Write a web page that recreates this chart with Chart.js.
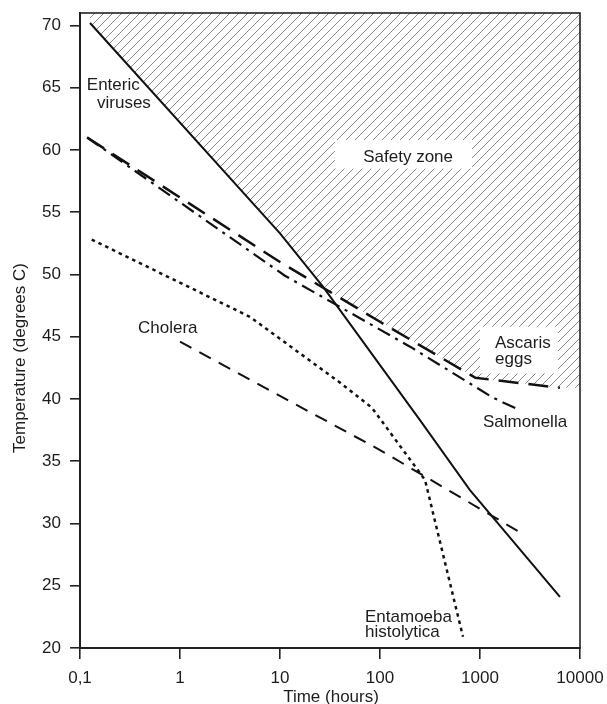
<!DOCTYPE html>
<html>
<head>
<meta charset="utf-8">
<script src="https://cdn.jsdelivr.net/npm/chart.js@4/dist/chart.umd.min.js"></script>
<style>
  html, body { margin: 0; padding: 0; background: #fff; }
  #wrap { width: 607px; height: 704px; position: relative; }
</style>
</head>
<body>
<div id="wrap"><canvas id="chart" width="607" height="704"></canvas></div>
<script>
// Axis ticks
const xTickValues = [0.1, 1, 10, 100, 1000, 10000];
const xTickLabels = ['0,1', '1', '10', '100', '1000', '10000'];
const yTickValues = [20, 25, 30, 35, 40, 45, 50, 55, 60, 65, 70];

// Time (hours) needed to kill each pathogen at a given temperature (°C)
const entericHours = [0.126, 10, 27, 251, 790, 6300];
const entericTemp  = [70.2, 53.3, 49.0, 38.3, 32.7, 24.1];

const ascarisHours = [0.118, 10, 100, 900, 6300];
const ascarisTemp  = [61.0, 51.0, 46.2, 41.7, 40.9];

const salmonellaHours = [0.118, 11.2, 200, 1350, 2500];
const salmonellaTemp  = [61.0, 49.9, 44.2, 40.1, 39.1];

const choleraHours = [1, 100, 2500];
const choleraTemp  = [44.6, 35.9, 29.3];

const entamoebaHours = [0.131, 5.0, 40, 83, 282, 676];
const entamoebaTemp  = [52.8, 46.6, 41.3, 39.3, 33.5, 20.9];

const FONT = '"Liberation Sans", Arial, Helvetica, sans-serif';
const INK = '#1c1c1c';

const lg = Math.log10;
const pts = (hs, ts) => hs.map((h, i) => ({ x: h, y: ts[i] }));

// Temperature on a piecewise line that is straight in log(time)
function tempAt(hours, temps, h) {
  for (let i = 1; i < hours.length; i++) {
    if (h <= hours[i] || i === hours.length - 1) {
      const t = (lg(h) - lg(hours[i - 1])) / (lg(hours[i]) - lg(hours[i - 1]));
      return temps[i - 1] + t * (temps[i] - temps[i - 1]);
    }
  }
  return temps[temps.length - 1];
}

// Where the enteric virus line drops below the Ascaris line
function crossing() {
  let lo = lg(entericHours[0]), hi = lg(entericHours[entericHours.length - 1]);
  const gap = u => tempAt(entericHours, entericTemp, 10 ** u) - tempAt(ascarisHours, ascarisTemp, 10 ** u);
  for (let k = 0; k < 60; k++) {
    const mid = (lo + hi) / 2;
    if (gap(mid) > 0) lo = mid; else hi = mid;
  }
  const h = 10 ** lo;
  return { x: h, y: tempAt(entericHours, entericTemp, h) };
}

// Lower edge of the safety zone: the upper envelope of the two curves
const cross = crossing();
const safetyEdge = [];
entericHours.forEach((h, i) => { if (h < cross.x) safetyEdge.push({ x: h, y: entericTemp[i] }); });
safetyEdge.push(cross);
ascarisHours.forEach((h, i) => { if (h > cross.x) safetyEdge.push({ x: h, y: ascarisTemp[i] }); });
safetyEdge.push({ x: xTickValues[xTickValues.length - 1], y: ascarisTemp[ascarisTemp.length - 1] });

// Diagonal hatching for the safety zone
function hatchPattern() {
  const s = 9;
  const tile = document.createElement('canvas');
  tile.width = s; tile.height = s;
  const c = tile.getContext('2d');
  c.strokeStyle = '#8a8a8a';
  c.lineWidth = 1;
  c.beginPath();
  c.moveTo(0, s); c.lineTo(s, 0);
  c.moveTo(-1, 1); c.lineTo(1, -1);
  c.moveTo(s - 1, s + 1); c.lineTo(s + 1, s - 1);
  c.stroke();
  return c.createPattern(tile, 'repeat');
}

// Text placed on the plot (time in hours, temperature at the text baseline)
const notes = [
  { text: 'Enteric', x: 0.117, y: 64.8 },
  { text: 'viruses', x: 0.148, y: 63.35 },
  { text: 'Safety zone', x: 68, y: 59.0, box: [35.5, 832, 60.8, 58.5] },
  { text: 'Ascaris', x: 1413, y: 44.1, box: [1000, 6030, 45.8, 42.05] },
  { text: 'eggs', x: 1413, y: 42.8 },
  { text: 'Salmonella', x: 1072, y: 37.75 },
  { text: 'Cholera', x: 0.38, y: 45.3 },
  { text: 'Entamoeba', x: 70.8, y: 22.1 },
  { text: 'histolytica', x: 70.8, y: 20.9 }
];

const decorations = {
  id: 'decorations',
  afterDatasetsDraw(chart) {
    const { ctx, chartArea: a, scales: { x, y } } = chart;
    ctx.save();
    // white backing behind labels inside the hatched area
    ctx.fillStyle = '#ffffff';
    notes.forEach(n => {
      if (!n.box) return;
      const x0 = x.getPixelForValue(n.box[0]), x1 = x.getPixelForValue(n.box[1]);
      const y0 = y.getPixelForValue(n.box[2]), y1 = y.getPixelForValue(n.box[3]);
      ctx.fillRect(x0, y0, x1 - x0, y1 - y0);
    });
    ctx.fillStyle = INK;
    ctx.font = '17px ' + FONT;
    ctx.textAlign = 'left';
    ctx.textBaseline = 'alphabetic';
    notes.forEach(n => {
      ctx.fillText(n.text, x.getPixelForValue(n.x), y.getPixelForValue(n.y));
    });
    // frame round the plot
    ctx.strokeStyle = '#222';
    ctx.lineWidth = 1.6;
    ctx.strokeRect(a.left, a.top, a.right - a.left, a.bottom - a.top);
    ctx.restore();
  },
  afterDraw(chart) {
    const { ctx, chartArea: a } = chart;
    ctx.save();
    ctx.fillStyle = INK;
    ctx.font = '17px ' + FONT;
    ctx.textAlign = 'center';
    ctx.textBaseline = 'middle';
    ctx.fillText('Time (hours)', (a.left + a.right) / 2 + 1, 697);
    ctx.translate(20, 358);
    ctx.rotate(-Math.PI / 2);
    ctx.fillText('Temperature (degrees C)', 0, 0);
    ctx.restore();
  }
};

const curve = (label, hs, ts, dash, width) => ({
  label,
  data: pts(hs, ts),
  borderColor: '#111',
  borderWidth: width,
  borderDash: dash,
  borderCapStyle: 'butt',
  pointRadius: 0,
  fill: false,
  tension: 0
});

new Chart(document.getElementById('chart'), {
  type: 'line',
  data: {
    datasets: [
      curve('Enteric viruses', entericHours, entericTemp, [], 2),
      curve('Ascaris eggs', ascarisHours, ascarisTemp, [20, 10], 2.5),
      curve('Salmonella', salmonellaHours, salmonellaTemp, [14, 6, 3, 6], 2.2),
      curve('Cholera', choleraHours, choleraTemp, [13, 9], 2),
      curve('Entamoeba histolytica', entamoebaHours, entamoebaTemp, [3.5, 4], 2.5),
      {
        label: 'Safety zone',
        data: safetyEdge,
        borderWidth: 0,
        borderColor: 'rgba(0,0,0,0)',
        pointRadius: 0,
        fill: 'end',
        backgroundColor: hatchPattern(),
        tension: 0
      }
    ]
  },
  options: {
    responsive: false,
    animation: false,
    events: [],
    layout: { padding: { top: 13, right: 27, left: 0, bottom: 0 } },
    plugins: { legend: { display: false }, tooltip: { enabled: false }, title: { display: false } },
    scales: {
      x: {
        type: 'logarithmic',
        min: 0.1,
        max: 10000,
        afterBuildTicks: s => { s.ticks = xTickValues.map(v => ({ value: v })); },
        afterFit: s => { s.height = 56; s.paddingLeft = 0; s.paddingRight = 0; },
        ticks: {
          autoSkip: false,
          maxRotation: 0,
          padding: 9,
          color: INK,
          font: { family: FONT, size: 17 },
          callback: (v, i) => xTickLabels[i]
        },
        grid: { drawOnChartArea: false, drawTicks: true, tickLength: 11, color: '#222', lineWidth: 1.6 },
        border: { display: true, color: '#222', width: 2 }
      },
      y: {
        type: 'linear',
        min: 20,
        max: 71,
        afterBuildTicks: s => { s.ticks = yTickValues.map(v => ({ value: v })); },
        afterFit: s => { s.width = 80; s.paddingTop = 0; s.paddingBottom = 0; },
        ticks: {
          padding: 9,
          color: INK,
          font: { family: FONT, size: 17 },
          callback: v => String(v)
        },
        grid: { drawOnChartArea: false, drawTicks: true, tickLength: 10, color: '#222', lineWidth: 1.6 },
        border: { display: true, color: '#222', width: 2 }
      }
    }
  },
  plugins: [decorations]
});
</script>
</body>
</html>
